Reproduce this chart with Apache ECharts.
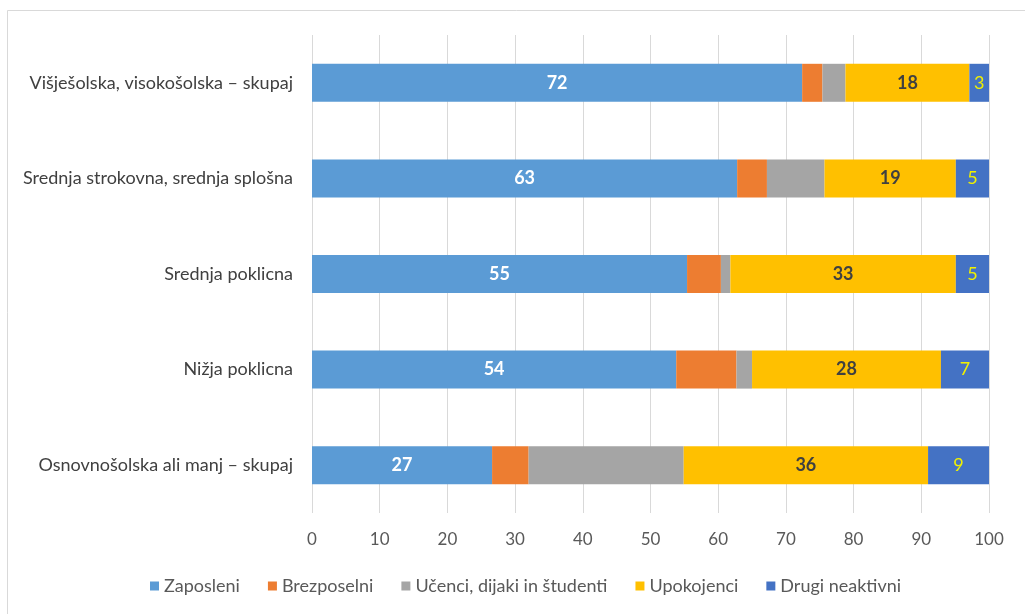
<!DOCTYPE html>
<html>
<head>
<meta charset="utf-8">
<script src="https://cdn.jsdelivr.net/npm/echarts@6/dist/echarts.min.js"></script>
<style>
html,body{margin:0;padding:0;background:#fff;}
#main{width:1025px;height:614px;}
</style>
</head>
<body>
<div id="main"></div>
<script>
var categories = [
  'Višješolska, visokošolska – skupaj',
  'Srednja strokovna, srednja splošna',
  'Srednja poklicna',
  'Nižja poklicna',
  'Osnovnošolska ali manj – skupaj'
];
var seriesNames = ['Zaposleni', 'Brezposelni', 'Učenci, dijaki in študenti', 'Upokojenci', 'Drugi neaktivni'];
var zaposleni   = [72.4, 62.8, 55.4, 53.8, 26.6];
var brezposelni = [3.0, 4.4, 5.0, 8.9, 5.4];
var ucenci      = [3.4, 8.5, 1.4, 2.3, 22.9];
var upokojenci  = [18.3, 19.4, 33.3, 27.9, 36.1];
var drugi       = [2.9, 4.9, 4.9, 7.1, 9.0];
var xTicks = [0, 10, 20, 30, 40, 50, 60, 70, 80, 90, 100];

var colors = ['#5B9BD5', '#ED7D31', '#A5A5A5', '#FFC000', '#4472C4'];
var font = 'Lato, "Open Sans", sans-serif';
var labelStyles = [
  {show: true, color: '#ffffff', fontWeight: 'bold', fontSize: 18},
  {show: false},
  {show: false},
  {show: true, color: '#404040', fontWeight: 'bold', fontSize: 18},
  {show: true, color: '#f0f000', fontWeight: 'normal', fontSize: 18}
];
var dataSets = [zaposleni, brezposelni, ucenci, upokojenci, drugi];

var series = dataSets.map(function (d, i) {
  var lab = labelStyles[i];
  return {
    name: seriesNames[i],
    type: 'bar',
    stack: 'total',
    barWidth: 38,
    data: d,
    itemStyle: {color: colors[i]},
    label: {
      show: lab.show,
      position: 'inside',
      color: lab.color,
      fontWeight: lab.fontWeight,
      fontSize: lab.fontSize,
      fontFamily: font,
      formatter: function (p) { return Math.round(p.value); }
    },
    emphasis: {disabled: true}
  };
});

var chart = echarts.init(document.getElementById('main'), null, {renderer: 'canvas'});
chart.setOption({
  animation: false,
  backgroundColor: '#ffffff',
  textStyle: {fontFamily: font},
  grid: {left: 312, right: 36, top: 35, bottom: 101, containLabel: false},
  legend: {
    data: seriesNames,
    left: 145,
    top: 572,
    itemWidth: 9,
    itemHeight: 9,
    itemGap: 28,
    icon: 'rect',
    textStyle: {fontSize: 18, color: '#595959', fontFamily: font}
  },
  xAxis: {
    type: 'value',
    min: xTicks[0],
    max: xTicks[xTicks.length - 1],
    interval: 10,
    axisLine: {show: false},
    axisTick: {show: false},
    splitLine: {show: true, lineStyle: {color: '#d9d9d9', width: 1}},
    axisLabel: {fontSize: 17, color: '#595959', margin: 18, fontFamily: font}
  },
  yAxis: {
    type: 'category',
    data: categories,
    inverse: true,
    axisLine: {show: false},
    axisTick: {show: false},
    axisLabel: {fontSize: 18, color: '#404040', margin: 19, fontFamily: font}
  },
  graphic: [
    {type: 'line', shape: {x1: 7.5, y1: 10.5, x2: 1025, y2: 10.5}, style: {stroke: '#d9d9d9', lineWidth: 1}, silent: true},
    {type: 'line', shape: {x1: 7.5, y1: 10.5, x2: 7.5, y2: 614}, style: {stroke: '#d9d9d9', lineWidth: 1}, silent: true}
  ],
  series: series
});
</script>
</body>
</html>
